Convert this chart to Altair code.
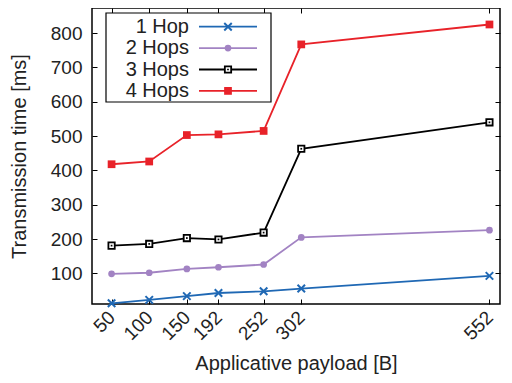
import altair as alt
import pandas as pd

payload = [50, 100, 150, 192, 252, 302, 552]
series = ["1 Hop", "2 Hops", "3 Hops", "4 Hops"]
hop1 = [13, 23, 34, 43, 48, 56, 93]
hop2 = [99, 102, 113, 118, 126, 205, 226]
hop3 = [181, 186, 203, 199, 219, 463, 540]
hop4 = [418, 426, 503, 505, 515, 767, 825]
colors = ["#1f68b4", "#a283c3", "#000000", "#e82229"]
y_ticks = [100, 200, 300, 400, 500, 600, 700, 800]

rows = []
for name, vals in zip(series, [hop1, hop2, hop3, hop4]):
    for p, v in zip(payload, vals):
        rows.append({"payload": p, "time": v, "series": name})
df = pd.DataFrame(rows)
legend_df = pd.DataFrame({"label": series})

W, H = 408, 296
FONT = "Liberation Sans"
TXT = "#222222"

x_enc = alt.X(
    "payload:Q",
    scale=alt.Scale(domain=[24, 566], nice=False, zero=False),
    axis=alt.Axis(
        values=payload, labelAngle=-45, labelAlign="right", labelBaseline="middle",
        labelOverlap=False, labelBound=False, labelFlush=False,
        title="Applicative payload [B]",
        grid=True, gridDash=[5, H - 10, 5, 3000], gridColor="black",
        gridOpacity=1, gridWidth=1, ticks=False, tickSize=0, domain=False,
        labelFontSize=19, labelPadding=10, titleFontSize=20, titlePadding=10,
        labelColor=TXT, titleColor=TXT, titleFontWeight="normal",
        labelFont=FONT, titleFont=FONT,
    ),
)
y_enc = alt.Y(
    "time:Q",
    scale=alt.Scale(domain=[11, 873], nice=False, zero=False),
    axis=alt.Axis(
        values=y_ticks, title="Transmission time [ms]", labelOverlap=False,
        grid=True, gridDash=[5, W - 10, 5, 3000], gridColor="black",
        gridOpacity=1, gridWidth=1, ticks=False, tickSize=0, domain=False,
        labelFontSize=19, labelPadding=10, titleFontSize=20, titlePadding=21,
        labelColor=TXT, titleColor=TXT, titleFontWeight="normal",
        labelFont=FONT, titleFont=FONT,
    ),
)

base = alt.Chart(df)
lines = base.mark_line(strokeWidth=1.8).encode(
    x=x_enc, y=y_enc,
    color=alt.Color("series:N", scale=alt.Scale(domain=series, range=colors), legend=None),
)

XSHAPE = "M-1,-1L1,1M-1,1L1,-1"
mk = [
    lambda c: c.mark_point(shape=XSHAPE, filled=False, strokeWidth=2, size=56, color=colors[0], opacity=1),
    lambda c: c.mark_point(shape="circle", filled=True, size=45, color=colors[1], opacity=1),
    lambda c: c.mark_square(size=40, fill="white", stroke="black", strokeWidth=1.8, opacity=1),
    lambda c: c.mark_square(size=60, color=colors[3], opacity=1),
]
dot = lambda c: c.mark_square(size=3, color="black", opacity=1)

layers = [lines]
for i, name in enumerate(series):
    sub = base.transform_filter(alt.datum.series == name)
    layers.append(mk[i](sub).encode(x=x_enc, y=y_enc))
    if i == 2:
        layers.append(dot(sub).encode(x=x_enc, y=y_enc))

# legend (drawn inside the plot, top-left)
box = alt.Chart(pd.DataFrame({"a": [0]})).mark_rect(
    fill="white", stroke="black", strokeWidth=1.2
).encode(x=alt.value(14), x2=alt.value(179), y=alt.value(5), y2=alt.value(94))
layers.append(box)
for i, name in enumerate(series):
    yv = 18.7 + 21.4 * i
    row = alt.Chart(legend_df).transform_filter(alt.datum.label == name)
    layers.append(row.mark_text(align="right", baseline="middle", fontSize=20, font=FONT, color=TXT)
                  .encode(text="label:N", x=alt.value(97), y=alt.value(yv)))
    layers.append(row.mark_rule(color=colors[i], strokeWidth=1.8)
                  .encode(x=alt.value(107), x2=alt.value(165), y=alt.value(yv)))
    layers.append(mk[i](row).encode(x=alt.value(136), y=alt.value(yv)))
    if i == 2:
        layers.append(dot(row).encode(x=alt.value(136), y=alt.value(yv)))

chart = alt.layer(*layers).properties(
    width=W, height=H,
    padding={"left": 84, "top": 0, "right": 4, "bottom": 70},
    autosize=alt.AutoSizeParams(type="none"),
).configure(font=FONT).configure_view(stroke="black", strokeWidth=1.5)

chart.save("out.html", embed_options={"renderer": "svg", "actions": False})
